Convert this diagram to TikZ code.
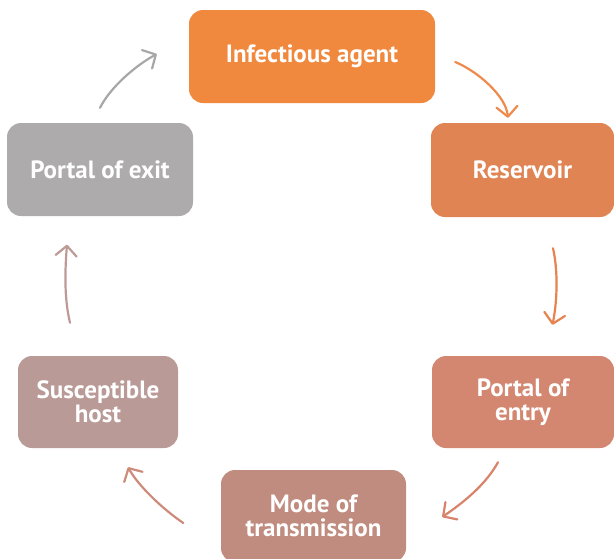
\documentclass[tikz,border=0pt]{standalone}
\usepackage{fontspec}
\setmainfont{PT Sans}
\usetikzlibrary{arrows.meta}
\definecolor{cAgent}{HTML}{F0883D}
\definecolor{cRes}{HTML}{E08453}
\definecolor{cEntry}{HTML}{D38770}
\definecolor{cMode}{HTML}{C18C80}
\definecolor{cHost}{HTML}{B99A97}
\definecolor{cExit}{HTML}{ADABAC}
\definecolor{aAgent}{HTML}{EE8A4B}
\definecolor{aRes}{HTML}{E6834F}
\definecolor{aEntry}{HTML}{D8836A}
\definecolor{aMode}{HTML}{CD8B7B}
\definecolor{aHost}{HTML}{BE9A96}
\definecolor{aExit}{HTML}{A8A7A8}
\tikzset{
  stage/.style={rectangle, rounded corners=14pt, inner sep=0pt, align=center,
    text=white, font=\fontsize{25}{24}\selectfont\bfseries},
  cycarrow/.style={line width=2.2pt, line cap=round,
    -{Straight Barb[length=10pt,width=21pt,line width=2.2pt,round]}}
}
\begin{document}
\begin{tikzpicture}[x=1pt,y=-1pt]
\useasboundingbox (0,0) rectangle (614,558);
\begin{scope}
\clip (0,0) rectangle (614,558);
\node[stage, fill=cAgent, minimum width=246pt, minimum height=93pt] (agent) at (312,56.5) {Infectious agent};
\node[stage, fill=cRes, minimum width=183pt, minimum height=94pt] (res) at (522.5,170) {Reservoir};
\node[stage, fill=cEntry, minimum width=182pt, minimum height=92pt] (entry) at (523,402) {Portal of\\entry};
\node[stage, fill=cMode, minimum width=185pt, minimum height=92pt] (mode) at (313.5,516) {Mode of\\transmission};
\node[stage, fill=cHost, minimum width=160pt, minimum height=92pt] (host) at (98,402) {Susceptible\\host};
\node[stage, fill=cExit, minimum width=186pt, minimum height=93pt] (exit) at (100,169.5) {Portal of exit};
\end{scope}
% arrow end points, placed relative to the stages
\coordinate (a1s) at ([shift={(20,5.5)}]agent.east);
\coordinate (a1e) at ([shift={(-14.5,-5)}]res.north);
\coordinate (a2s) at ([shift={(30.5,31)}]res.south);
\coordinate (a2e) at ([shift={(29.5,-31)}]entry.north);
\coordinate (a3s) at ([shift={(-25,14)}]entry.south);
\coordinate (a3e) at ([shift={(36,1)}]mode.east);
\coordinate (a4s) at ([shift={(-37.5,7)}]mode.west);
\coordinate (a4e) at ([shift={(30,19)}]host.south);
\coordinate (a5s) at ([shift={(-28,-33)}]host.north);
\coordinate (a5e) at ([shift={(-33,28.5)}]exit.south);
\coordinate (a6s) at ([shift={(0,-15)}]exit.north);
\coordinate (a6e) at ([shift={(-32,-2.5)}]agent.west);
\draw[cycarrow, aAgent] (a1s) .. controls +(22,9) and +(-2,-22) .. (a1e);
\draw[cycarrow, aRes] (a2s) .. controls +(5,22) and +(5,-25) .. (a2e);
\draw[cycarrow, aEntry] (a3s) .. controls +(-12,22) and +(22,-15) .. (a3e);
\draw[cycarrow, aMode] (a4s) .. controls +(-22,-15) and +(10,18) .. (a4e);
\draw[cycarrow, aHost] (a5s) .. controls +(-6,-25) and +(-2,25) .. (a5e);
\draw[cycarrow, aExit] (a6s) .. controls +(10,-20) and +(-22,12) .. (a6e);
\end{tikzpicture}
\end{document}
